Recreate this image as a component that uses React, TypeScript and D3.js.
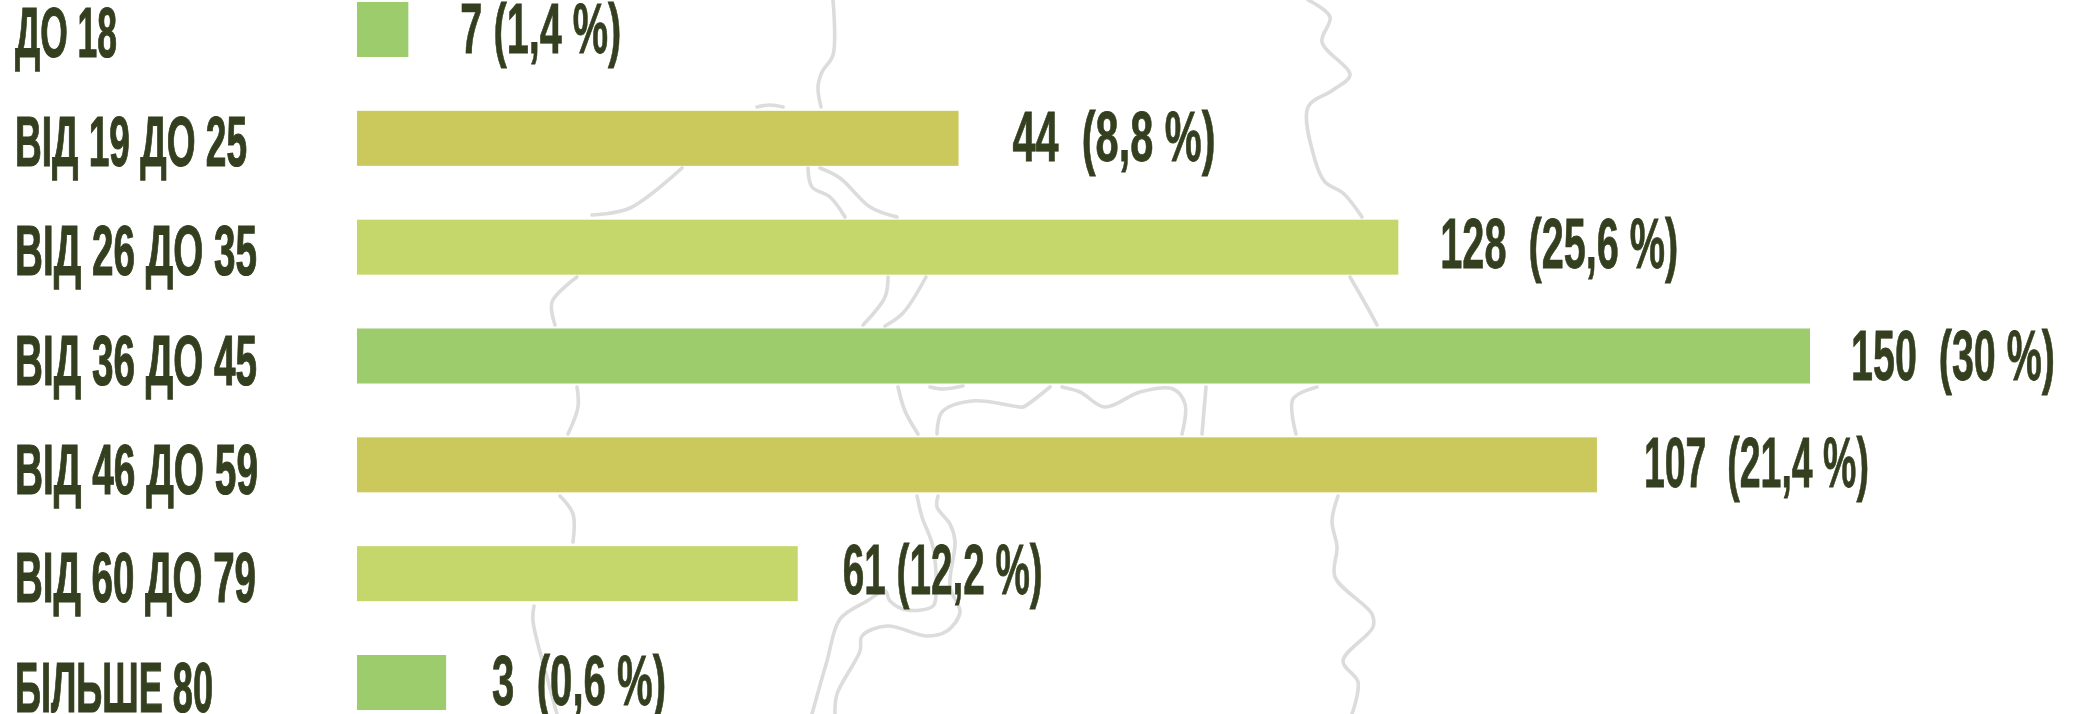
import React from "react";
import * as d3 from "d3";

// Data
const categories = ["ДО 18", "ВІД 19 ДО 25", "ВІД 26 ДО 35", "ВІД 36 ДО 45", "ВІД 46 ДО 59", "ВІД 60 ДО 79", "БІЛЬШЕ 80"];
const counts = [7, 44, 128, 150, 107, 61, 3];
const shares = ["1,4", "8,8", "25,6", "30", "21,4", "12,2", "0,6"];
const separators = [" ", "  ", "  ", "  ", "  ", " ", "  "];
// The source's bars are not proportional to their printed counts: these are the drawn
// lengths, measured on a scale where the longest bar (150) is 150.
const barLengths = [5.3, 62.1, 107.5, 150, 128, 45.5, 9.2];
const colorKeys = ["green", "olive", "lime", "green", "olive", "lime", "green"];

// Layout and style
const palette: Record<string, string> = { green: "#9ccc6c", olive: "#cbc95c", lime: "#c5d76b" };
const ink = "#333f1e";
const font = "'Liberation Sans Narrow','Liberation Sans',sans-serif";
const fontSize = 70;
const labelX = 15;
const labelWidths = [102, 232, 242, 242, 243, 241, 198];
const labelDy = [0, 0, 0, 1, 2, 1, 2];
const valueGaps = [52, 54, 42, 41, 47, 45, 46];
const valueWidths = [161, 203, 238, 204, 225, 200, 174];
const valueDy = [-4, -5, -7, -4, -5, -7, -5];

// Decorative map outline behind the chart, traced as separate visible stretches
const outline: [number, number][][] = [
  [[833, 0], [833, 55], [822, 72], [818, 87], [821, 107]],
  [[757, 107], [770, 105], [783, 107]],
  [[682, 168], [630, 208], [592, 215]],
  [[808, 168], [812, 187], [830, 197], [845, 217]],
  [[820, 168], [840, 178], [870, 207], [897, 217]],
  [[577, 277], [552, 302], [555, 325]],
  [[888, 277], [885, 297], [863, 325]],
  [[926, 277], [903, 313], [885, 326]],
  [[1308, 0], [1330, 17], [1322, 42], [1350, 75], [1333, 90], [1308, 107], [1315, 160], [1325, 182], [1343, 193], [1362, 217]],
  [[1350, 277], [1365, 303], [1377, 325]],
  [[577, 387], [578, 407], [568, 434]],
  [[898, 387], [905, 411], [918, 434]],
  [[937, 434], [942, 412], [972, 401], [1020, 407], [1023, 407], [1050, 387]],
  [[930, 387], [943, 389], [963, 386]],
  [[1062, 387], [1080, 392], [1105, 407], [1140, 392], [1173, 389], [1185, 404], [1182, 434]],
  [[1206, 387], [1202, 434]],
  [[1317, 387], [1293, 399], [1296, 434]],
  [[1338, 496], [1332, 521], [1337, 547], [1335, 577], [1372, 614], [1373, 627], [1343, 661], [1358, 682], [1352, 714]],
  [[560, 496], [573, 514], [573, 542]],
  [[534, 606], [533, 621], [548, 681], [557, 714]],
  [[917, 496], [922, 517], [933, 547], [936, 594], [933, 606], [907, 610], [890, 601], [885, 591], [867, 601], [840, 619], [827, 661], [812, 714]],
  [[938, 496], [937, 507], [950, 524], [955, 541], [950, 587], [960, 612], [947, 631], [927, 636], [887, 626], [862, 636], [860, 651], [837, 694], [835, 714]],
];

export default function App() {
  const x = d3.scaleLinear().domain([0, 150]).range([357, 1810]);
  const y = d3.scaleBand<string>().domain(categories).range([2, 710]).paddingInner(0.4946).paddingOuter(0);
  const line = d3.line().curve(d3.curveCatmullRom.alpha(0.5));

  return (
    <svg
      width={2080}
      height={714}
      viewBox="0 0 2080 714"
      style={{ position: "absolute", left: 0, top: 0, display: "block", background: "#ffffff" }}
    >
      <g fill="none" stroke="#dcdcdc" strokeWidth={3.6} strokeLinecap="round">
        {outline.map((s, i) => (
          <path key={i} d={line(s) as string} />
        ))}
      </g>
      {categories.map((c, i) => {
        const top = y(c) as number;
        const bottom = top + y.bandwidth();
        const end = x(barLengths[i]);
        const valueText = `${counts[i]}${separators[i]}(${shares[i]} %)`;
        return (
          <g key={c}>
            <rect x={x(0)} y={top} width={end - x(0)} height={y.bandwidth()} fill={palette[colorKeys[i]]} />
            <text
              x={labelX}
              y={bottom + labelDy[i]}
              fontFamily={font}
              fontWeight={700}
              fontSize={fontSize}
              fill={ink}
              stroke={ink}
              strokeWidth={1.2}
              textLength={labelWidths[i]}
              lengthAdjust="spacingAndGlyphs"
              style={{ whiteSpace: "pre" }}
            >
              {c}
            </text>
            <text
              x={end + valueGaps[i]}
              y={bottom + valueDy[i]}
              fontFamily={font}
              fontWeight={700}
              fontSize={fontSize}
              fill={ink}
              stroke={ink}
              strokeWidth={0.8}
              textLength={valueWidths[i]}
              lengthAdjust="spacingAndGlyphs"
              style={{ whiteSpace: "pre" }}
            >
              {valueText}
            </text>
          </g>
        );
      })}
    </svg>
  );
}
